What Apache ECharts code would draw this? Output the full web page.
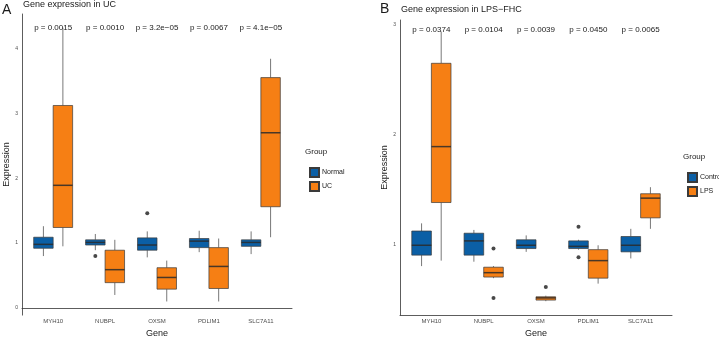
<!DOCTYPE html>
<html>
<head>
<meta charset="utf-8">
<script src="https://cdn.jsdelivr.net/npm/echarts@6/dist/echarts.min.js"></script>
<style>
  html, body { margin: 0; padding: 0; background: #fff; }
  #chart { width: 719px; height: 343px; }
</style>
</head>
<body>
<div id="chart"></div>
<script>
// ============ 数据 ============
const genes = ['MYH10', 'NUBPL', 'OXSM', 'PDLIM1', 'SLC7A11'];

// 每个基因: [min, Q1, median, Q3, max]
const ucNormal = [[0.80, 0.92, 0.98, 1.09, 1.26], [0.89, 0.97, 1.01, 1.05, 1.14], [0.78, 0.89, 0.97, 1.08, 1.18], [0.86, 0.93, 1.03, 1.07, 1.19], [0.83, 0.95, 1.01, 1.05, 1.18]];
const ucUC = [[0.95, 1.24, 1.89, 3.12, 4.32], [0.20, 0.39, 0.59, 0.89, 1.05], [0.10, 0.29, 0.47, 0.62, 0.73], [0.10, 0.30, 0.64, 0.93, 1.07], [1.09, 1.56, 2.70, 3.55, 3.84]];
const ucNormalOut = [[1, 0.80], [2, 1.46]];   // [gene index, value]
const ucUCOut = [];
const ucPvals = ['p = 0.0015', 'p = 0.0010', 'p = 3.2e\u221205', 'p = 0.0067', 'p = 4.1e\u221205'];
const ucPy = 4.32;

const fhcControl = [[0.80, 0.90, 0.99, 1.12, 1.19], [0.84, 0.90, 1.03, 1.10, 1.13], [0.93, 0.96, 0.99, 1.04, 1.08], [0.95, 0.96, 0.98, 1.03, 1.04], [0.87, 0.93, 0.99, 1.07, 1.14]];
const fhcLPS = [[0.85, 1.38, 1.89, 2.65, 2.94], [0.69, 0.70, 0.74, 0.79, 0.80], [0.48, 0.49, 0.51, 0.52, 0.53], [0.64, 0.69, 0.85, 0.95, 0.99], [1.14, 1.24, 1.42, 1.46, 1.52]];
const fhcControlOut = [[3, 1.16], [3, 0.88]];
const fhcLPSOut = [[1, 0.96], [1, 0.51], [2, 0.61]];
const fhcPvals = ['p = 0.0374', 'p = 0.0104', 'p = 0.0039', 'p = 0.0450', 'p = 0.0065'];
const fhcPy = 2.96;

const ticksA = [0, 1, 2, 3, 4];
const ticksB = [1, 2, 3];

// ============ 样式 ============
const BLUE = '#0b5fa5';
const ORANGE = '#f67f14';
const DODGE = 0.1875;
const BOXW = 0.375;
const FONT = 'Liberation Sans, Arial, sans-serif';

function boxRender(off, color) {
  return function (params, api) {
    const x = api.value(0) + off;
    const pMin = api.coord([x, api.value(1)]);
    const pQ1 = api.coord([x, api.value(2)]);
    const pMed = api.coord([x, api.value(3)]);
    const pQ3 = api.coord([x, api.value(4)]);
    const pMax = api.coord([x, api.value(5)]);
    const w = api.size([BOXW, 0])[0];
    const cx = pMed[0];
    return {
      type: 'group',
      children: [
        { type: 'line', shape: { x1: cx, y1: pMax[1], x2: cx, y2: pQ3[1] }, style: { stroke: '#555', lineWidth: 0.8 } },
        { type: 'line', shape: { x1: cx, y1: pQ1[1], x2: cx, y2: pMin[1] }, style: { stroke: '#555', lineWidth: 0.8 } },
        { type: 'rect', shape: { x: cx - w / 2, y: pQ3[1], width: w, height: pQ1[1] - pQ3[1] }, style: { fill: color, stroke: '#3a3a3a', lineWidth: 0.7 } },
        { type: 'line', shape: { x1: cx - w / 2, y1: pMed[1], x2: cx + w / 2, y2: pMed[1] }, style: { stroke: '#2a2a2a', lineWidth: 1.5, opacity: 0.85 } },
      ],
    };
  };
}

function boxSeries(name, stats, off, color, idx) {
  return {
    name: name,
    type: 'custom',
    xAxisIndex: idx,
    yAxisIndex: idx,
    itemStyle: { color: color, borderColor: '#3a3a3a', borderWidth: 0.6 },
    renderItem: boxRender(off, color),
    encode: { x: 0, y: [1, 2, 3, 4, 5] },
    data: stats.map((s, i) => [i + 1, ...s]),
    z: 2,
  };
}

function outlierSeries(pts, off, idx) {
  return {
    type: 'scatter',
    xAxisIndex: idx,
    yAxisIndex: idx,
    symbolSize: 4,
    itemStyle: { color: '#1a1a1a' },
    data: pts.map(p => [p[0] + 1 + off, p[1]]),
    z: 3,
  };
}

function pSeries(labels, yv, idx) {
  return {
    type: 'custom',
    xAxisIndex: idx,
    yAxisIndex: idx,
    renderItem: function (params, api) {
      const p = api.coord([api.value(0), api.value(1)]);
      return { type: 'text', x: p[0], y: p[1], style: { text: labels[params.dataIndex], fill: '#1a1a1a', font: '8px ' + FONT, align: 'center', verticalAlign: 'middle' } };
    },
    data: labels.map((l, i) => [i + 1, yv]),
    z: 4,
  };
}

function xAxisDef(idx) {
  return {
    type: 'value', gridIndex: idx, min: 0.4, max: 5.6,
    name: 'Gene', nameLocation: 'middle', nameGap: 13,
    nameTextStyle: { fontFamily: FONT, fontSize: 9, color: '#1a1a1a' },
    axisLine: { show: true, lineStyle: { color: '#333', width: 0.8 } },
    axisTick: { show: false },
    axisLabel: { customValues: [1, 2, 3, 4, 5], formatter: v => genes[Math.round(v) - 1] || '', fontSize: 6, color: '#4d4d4d', margin: 3, fontFamily: FONT },
    splitLine: { show: false },
  };
}

function yAxisDef(idx, min, max, ticks) {
  return {
    type: 'value', gridIndex: idx, min: min, max: max,
    name: 'Expression', nameLocation: 'middle', nameGap: 8,
    nameTextStyle: { fontFamily: FONT, fontSize: 9, color: '#1a1a1a' },
    axisLine: { show: true, lineStyle: { color: '#333', width: 0.8 } },
    axisTick: { show: false },
    axisLabel: { customValues: ticks, fontSize: 5, color: '#4d4d4d', margin: 4, fontFamily: FONT },
    splitLine: { show: false },
  };
}

const chart = echarts.init(document.getElementById('chart'));
chart.setOption({
  animation: false,
  backgroundColor: '#fff',
  grid: [
    { left: 22, top: 14, width: 270, height: 306 },
    { left: 400, top: 20, width: 272, height: 305 },
  ],
  xAxis: [xAxisDef(0), xAxisDef(1)],
  yAxis: [yAxisDef(0, -0.11, 4.53, ticksA), yAxisDef(1, 0.353, 3.045, ticksB)],
  legend: [
    {
      data: ['Normal', 'UC'], orient: 'vertical', left: 304, top: 162,
      itemWidth: 9, itemHeight: 9, itemGap: 3, icon: 'rect',
      textStyle: { fontSize: 7, color: '#1a1a1a', fontFamily: FONT, padding: [0, 0, 0, -2] },
    },
    {
      data: ['Control', 'LPS'], orient: 'vertical', left: 682, top: 167,
      itemWidth: 9, itemHeight: 9, itemGap: 3, icon: 'rect',
      textStyle: { fontSize: 7, color: '#1a1a1a', fontFamily: FONT, padding: [0, 0, 0, -2] },
    },
  ],
  graphic: [
    { type: 'text', left: 2, top: 3, style: { text: 'A', font: '14px ' + FONT, fill: '#1a1a1a' } },
    { type: 'text', left: 23, top: 0, style: { text: 'Gene expression in UC', font: '9px ' + FONT, fill: '#1a1a1a' } },
    { type: 'text', left: 305, top: 148, style: { text: 'Group', font: '8px ' + FONT, fill: '#1a1a1a' } },
    { type: 'text', left: 380, top: 2, style: { text: 'B', font: '14px ' + FONT, fill: '#1a1a1a' } },
    { type: 'text', left: 401, top: 5, style: { text: 'Gene expression in LPS\u2212FHC', font: '9px ' + FONT, fill: '#1a1a1a' } },
    { type: 'text', left: 683, top: 153, style: { text: 'Group', font: '8px ' + FONT, fill: '#1a1a1a' } },
  ],
  series: [
    boxSeries('Normal', ucNormal, -DODGE, BLUE, 0),
    boxSeries('UC', ucUC, DODGE, ORANGE, 0),
    outlierSeries(ucNormalOut, -DODGE, 0),
    outlierSeries(ucUCOut, DODGE, 0),
    pSeries(ucPvals, ucPy, 0),
    boxSeries('Control', fhcControl, -DODGE, BLUE, 1),
    boxSeries('LPS', fhcLPS, DODGE, ORANGE, 1),
    outlierSeries(fhcControlOut, -DODGE, 1),
    outlierSeries(fhcLPSOut, DODGE, 1),
    pSeries(fhcPvals, fhcPy, 1),
  ],
});
</script>
</body>
</html>
